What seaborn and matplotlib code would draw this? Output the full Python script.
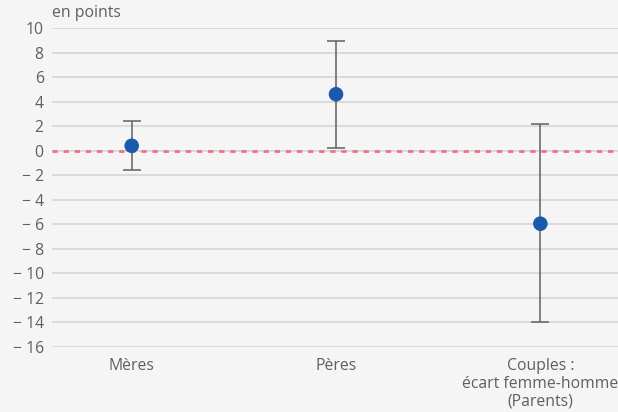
import matplotlib
matplotlib.use("Agg")
import matplotlib.pyplot as plt
import matplotlib.ticker as mticker
import seaborn as sns
import pandas as pd

# Values (en points)
categories = ["Mères", "Pères", "Couples :\nécart femme-homme\n(Parents)"]
estimates = [0.4, 4.6, -5.95]
lower = [-1.6, 0.25, -14.0]
upper = [2.4, 8.9, 2.2]
y_ticks = list(range(-16, 11, 2))

df = pd.DataFrame({"categorie": categories, "valeur": estimates,
                   "bas": lower, "haut": upper})

sns.set_theme(style="white")
plt.rcParams["font.family"] = ["Open Sans", "DejaVu Sans"]

bg = "#f5f5f5"
text_col = "#5f5f5f"
fs = 11.3

fig = plt.figure(figsize=(6.18, 4.12), dpi=100, facecolor=bg)
ax = fig.add_axes([52 / 618, 65 / 412, 1 - 52 / 618, (347 - 28) / 412])
ax.set_facecolor(bg)

x = list(range(len(categories)))

# horizontal grid
for t in y_ticks:
    ax.axhline(t, color="#d2d2d2", lw=1.1, zorder=0)

# reference line at zero
ax.axhline(0, color="#f0708a", lw=2, ls=(0, (1.9, 2.1)), zorder=1)

# confidence intervals
err_low = [e - l for e, l in zip(df["valeur"], df["bas"])]
err_high = [h - e for e, h in zip(df["valeur"], df["haut"])]
ax.errorbar(x, df["valeur"], yerr=[err_low, err_high], fmt="none",
            ecolor="#6b6b6b", elinewidth=1.2, capsize=6.5, capthick=1.2, zorder=2)

sns.scatterplot(data=df, x=x, y="valeur", ax=ax, color="#1a5aad",
                s=110, edgecolor="none", zorder=3, legend=False)

ax.set_xlim(-0.39, 2.38)
ax.set_ylim(-16, 10)
ax.set_yticks(y_ticks)
ax.yaxis.set_major_formatter(mticker.FuncFormatter(
    lambda v, p: f"\u2212 {abs(int(v))}" if v < 0 else f"{int(v)}"))
ax.set_xticks(x)
ax.set_xticklabels(categories, linespacing=1.15)
ax.tick_params(axis="both", length=0, labelsize=fs, colors=text_col)
ax.tick_params(axis="x", pad=8)
ax.tick_params(axis="y", pad=6)
ax.set_xlabel("")
ax.set_ylabel("")
for s in ax.spines.values():
    s.set_visible(False)

fig.text(52 / 618, 1 - 13 / 412, "en points", fontsize=fs, color=text_col,
         ha="left", va="center")

fig.savefig("out.png", dpi=100, facecolor=bg)
